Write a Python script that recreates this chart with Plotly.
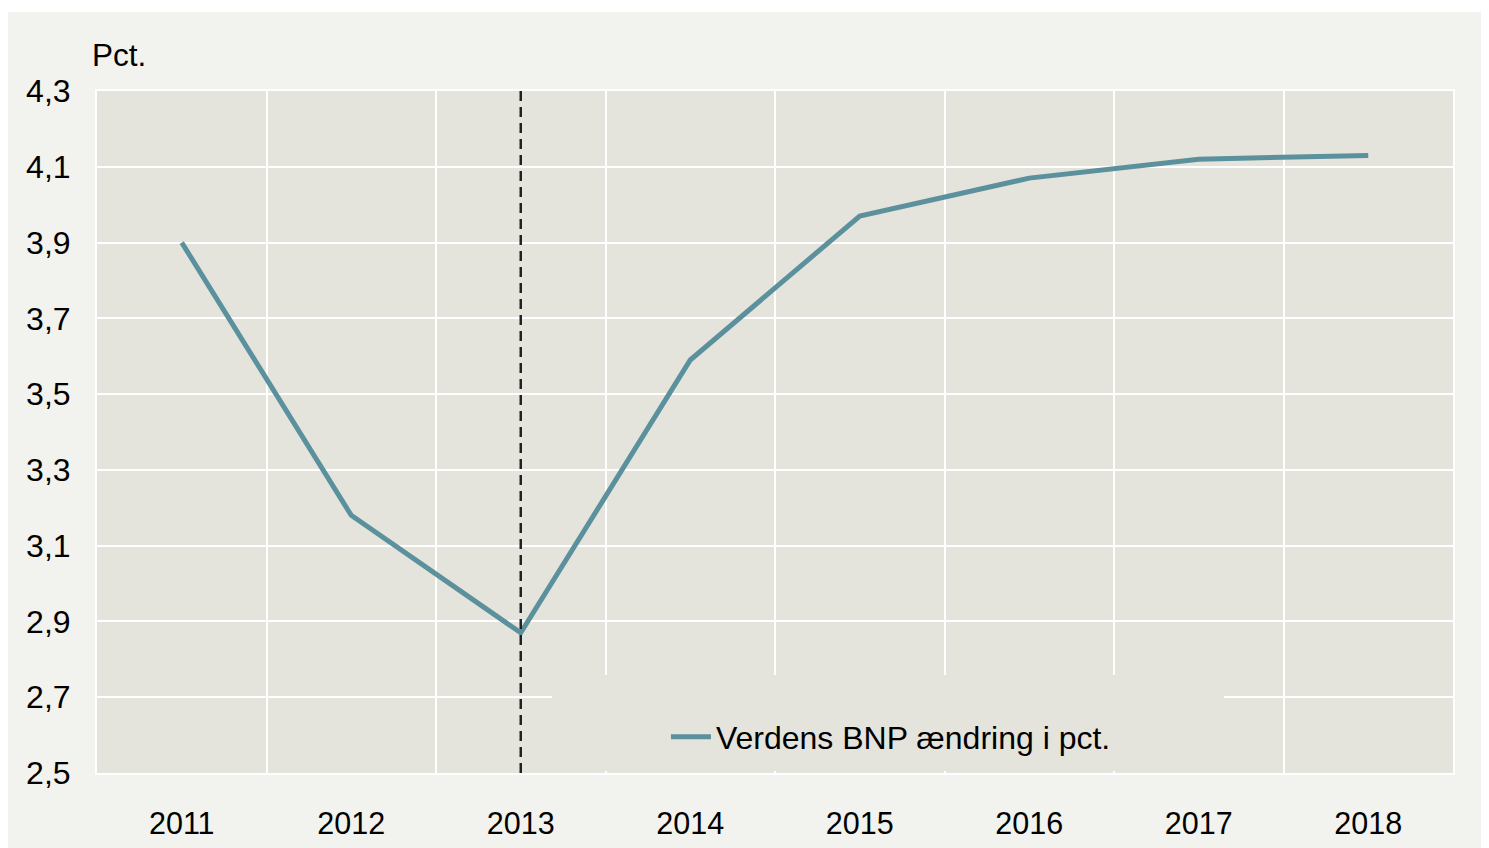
import plotly.graph_objects as go

years = ["2011", "2012", "2013", "2014", "2015", "2016", "2017", "2018"]
gdp_change = [3.90, 3.18, 2.87, 3.59, 3.97, 4.07, 4.12, 4.13]
series_name = "Verdens BNP ændring i pct."
y_ticks = [2.5, 2.7, 2.9, 3.1, 3.3, 3.5, 3.7, 3.9, 4.1, 4.3]
y_min, y_max = 2.5, 4.3
forecast_start = "2013"

FONT = "Liberation Sans, Arial, sans-serif"
LINE_COLOR = "#5B909D"
PLOT_BG = "#E5E4DC"
PAPER_BG = "#F2F2EE"

W, H = 1481, 840
ML, MR, MT, MB = 89, 36, 83, 75
PW, PH = W - ML - MR, H - MT - MB

# legend background box (fraction of plot area)
box_x0, box_x1, box_y0, box_y1 = 0.3355, 0.831, 0.003, 0.1437

fig = go.Figure()
fig.add_trace(go.Scatter(
    x=years, y=gdp_change, mode="lines", name=series_name,
    line=dict(color=LINE_COLOR, width=5), showlegend=True,
))

# patch hiding the gridlines behind the legend (drawn on an overlay axis pair)
fig.add_trace(go.Scatter(
    x=[box_x0, box_x1, box_x1, box_x0, box_x0],
    y=[box_y0, box_y0, box_y1, box_y1, box_y0],
    xaxis="x2", yaxis="y2", mode="lines", fill="toself",
    fillcolor=PLOT_BG, line=dict(width=0, color=PLOT_BG),
    hoverinfo="skip", showlegend=False,
))

# forecast divider at the forecast start category
fc_idx = years.index(forecast_start)
fig.add_shape(type="line", xref="x", yref="y",
              x0=fc_idx, x1=fc_idx, y0=y_min, y1=y_max,
              line=dict(color="#222222", width=2.5, dash="10px,6px"))

# thin white band on top of the figure (page margin look)
fig.add_shape(type="rect", xref="paper", yref="paper",
              x0=-ML / PW - 0.01, x1=1 + MR / PW + 0.01,
              y0=1 + (MT - 4) / PH, y1=1 + (MT + 2) / PH,
              fillcolor="white", line=dict(width=0), layer="below")

fig.add_annotation(text="Pct.", xref="paper", yref="paper", x=-0.005, y=1.053,
                   xanchor="left", yanchor="middle", showarrow=False,
                   font=dict(size=31.5, color="black", family=FONT))

fig.update_layout(
    width=W, height=H,
    margin=dict(l=ML, r=MR, t=MT, b=MB),
    paper_bgcolor=PAPER_BG, plot_bgcolor=PLOT_BG,
    separators=",.",
    font=dict(family=FONT, size=30, color="black"),
    showlegend=True,
    legend=dict(x=0.5855, y=0.0528, xanchor="center", yanchor="middle",
                bgcolor="rgba(0,0,0,0)", font=dict(size=32, color="black", family=FONT),
                itemwidth=40),
    xaxis2=dict(overlaying="x", range=[0, 1], visible=False, fixedrange=True),
    yaxis2=dict(overlaying="y", range=[0, 1], visible=False, fixedrange=True),
)
fig.update_layout(xaxis=dict(
    type="category", range=[-0.5, 7.5], tickson="boundaries", automargin=False,
    showgrid=True, gridcolor="white", gridwidth=2,
    showline=True, linecolor="white", linewidth=2, mirror=True,
    ticks="", ticklabelstandoff=22, zeroline=False,
    tickfont=dict(size=30.5, color="black", family=FONT),
))
fig.update_layout(yaxis=dict(
    range=[y_min, y_max], tickvals=y_ticks, tickformat=".1f", automargin=False,
    showgrid=True, gridcolor="white", gridwidth=2,
    showline=True, linecolor="white", linewidth=2, mirror=True,
    ticks="", ticklabelstandoff=18, zeroline=False,
    tickfont=dict(size=32, color="black", family=FONT),
))

fig.write_html("out.html")
